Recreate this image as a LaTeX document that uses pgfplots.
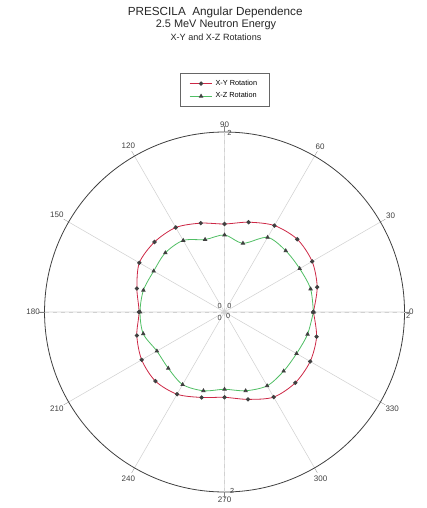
\documentclass[border=0pt]{standalone}
\usepackage{fontspec}
\setmainfont{Liberation Sans}
\usepackage{pgfplots}
\usepgfplotslibrary{polar}
\pgfplotsset{compat=1.18}
\definecolor{xyred}{RGB}{205,40,70}
\definecolor{xzgreen}{RGB}{80,190,100}

\begin{document}
\begin{tikzpicture}
\begin{polaraxis}[
    at={(0,0)}, anchor=center,
    scale only axis,
    width=270pt, height=270pt,
    ymin=0, ymax=2,
    xtick={0,30,...,330},
    ytick={0,2},
    xmajorgrids=true,
    ymajorgrids=false,
    major grid style={black!18, line width=0.4pt},
    extra x ticks={0,90,180,270},
    extra x tick labels={},
    extra x tick style={grid style={dashed, black!50, line width=0.4pt}},
    x axis line style={black!75, line width=0.6pt},
    y axis line style={dashed, black!50, line width=0.4pt},
    ytick style={draw=none},
    /pgf/number format/assume math mode=true,
    xticklabel style={font=\fontsize{6}{7}\selectfont, text=black!75},
    yticklabel style={font=\fontsize{5.5}{6}\selectfont, text=black!75, anchor=north west, inner sep=1pt},
    legend style={
        at={(axis description cs:0.5,1.117)}, anchor=center,
        font=\fontsize{5.5}{6.5}\selectfont,
        draw=black!60, line width=0.4pt,
        row sep=0pt, inner xsep=7pt, inner ysep=3pt,
    },
    legend cell align=left,
]
\addplot[xyred, line width=0.6pt, smooth, mark=*, mark size=1.3pt,
    mark options={fill=black!75, draw=black!75}]
coordinates {
(0,0.987) (15,1.066) (30,1.124) (45,1.143) (60,1.109) (75,1.033)
(90,0.978) (105,1.022) (120,1.084) (135,1.100) (150,1.093) (165,1.008)
(180,0.950) (195,1.009) (210,1.063) (225,1.086) (240,1.055) (255,0.983)
(270,0.948) (285,1.005) (300,1.092) (315,1.112) (330,1.099) (345,1.059)
(360,0.987)
};
\addplot[xzgreen, line width=0.6pt, smooth, mark=triangle*, mark size=1.4pt,
    mark options={fill=black!75, draw=black!75}]
coordinates {
(0,0.987) (15,0.990) (30,0.964) (45,0.962) (60,0.957) (75,0.791)
(90,0.856) (105,0.834) (120,0.918) (135,0.930) (150,0.909) (165,0.933)
(180,0.939) (195,0.935) (210,0.868) (225,0.884) (240,0.931) (255,0.906)
(270,0.859) (285,0.906) (300,0.947) (315,0.929) (330,0.924) (345,0.955)
(360,0.987)
};
\legend{X-Y Rotation, X-Z Rotation}
\end{polaraxis}

\begin{scope}[every node/.style={font=\fontsize{5.5}{6}\selectfont, text=black!75, inner sep=1pt}]
\node[anchor=south west] at (1pt,1pt) {0};
\node[anchor=north east] at (-1pt,-1pt) {0};
\node[anchor=south east] at (-1pt,1pt) {0};
\node[anchor=south west] at (1pt,131pt) {2};
\node[anchor=north west] at (3pt,-131pt) {2};
\end{scope}

\node[font=\fontsize{8.8}{10}\selectfont, text=black!85] at (-7pt,225pt) {PRESCILA\ \ Angular Dependence};
\node[font=\fontsize{8.2}{10}\selectfont, text=black!85] at (-6.4pt,215.3pt) {2.5 MeV Neutron Energy};
\node[font=\fontsize{6.8}{8}\selectfont, text=black!85] at (-6.4pt,206pt) {X-Y and X-Z Rotations};

\path[use as bounding box] (-168.4pt,-147pt) rectangle (151.1pt,234pt);
\end{tikzpicture}
\end{document}
